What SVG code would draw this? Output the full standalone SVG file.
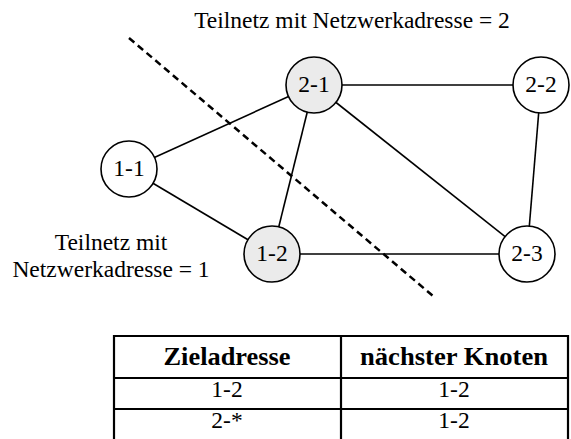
<svg xmlns="http://www.w3.org/2000/svg" width="571" height="439" viewBox="0 0 571 439">
<style>
text{font-family:"Liberation Serif","Times New Roman",serif;font-size:23.5px;fill:#000;text-anchor:middle}
.b{font-weight:bold;font-size:25px}
.node circle{stroke:#000;stroke-width:1.6;fill:#fff}
.node.g circle{fill:#ebebeb}
#edges line{stroke:#000;stroke-width:1.6}
.grid line{stroke:#000;stroke-width:2.2}
</style>
<rect width="571" height="439" fill="#fff"/>
<text x="352" y="28">Teilnetz mit Netzwerkadresse = 2</text>
<text x="111" y="250">Teilnetz mit</text>
<text x="111" y="277">Netzwerkadresse = 1</text>
<g id="edges">
<line x1="129" y1="169" x2="314" y2="85"/>
<line x1="129" y1="169" x2="272" y2="254"/>
<line x1="314" y1="85" x2="272" y2="254"/>
<line x1="314" y1="85" x2="541" y2="85"/>
<line x1="314" y1="85" x2="527" y2="254"/>
<line x1="541" y1="85" x2="527" y2="254"/>
<line x1="272" y1="254" x2="527" y2="254"/>
</g>
<g id="n2-1" class="node g"><circle cx="314" cy="85" r="28"/><text x="314" y="92">2-1</text></g>
<g id="n2-2" class="node"><circle cx="541" cy="85" r="28"/><text x="541" y="92">2-2</text></g>
<g id="n1-1" class="node"><circle cx="129" cy="169" r="28"/><text x="129" y="176">1-1</text></g>
<g id="n1-2" class="node g"><circle cx="272" cy="254" r="28"/><text x="272" y="261">1-2</text></g>
<g id="n2-3" class="node"><circle cx="527" cy="254" r="28"/><text x="527" y="261">2-3</text></g>
<line id="boundary" x1="129" y1="38" x2="433" y2="296" stroke="#000" stroke-width="2.5" stroke-dasharray="7,4.5"/>
<g id="table">
<g class="grid">
<line x1="113" y1="336" x2="569" y2="336"/>
<line x1="113" y1="378" x2="569" y2="378"/>
<line x1="113" y1="409" x2="569" y2="409"/>
<line x1="114" y1="335" x2="114" y2="439"/>
<line x1="341" y1="335" x2="341" y2="439"/>
<line x1="568" y1="335" x2="568" y2="439"/>
</g>
<text class="b" x="227" y="365" textLength="127" lengthAdjust="spacingAndGlyphs">Zieladresse</text>
<text class="b" x="454" y="365" textLength="188" lengthAdjust="spacingAndGlyphs">nächster Knoten</text>
<text x="227" y="397">1-2</text>
<text x="454" y="397">1-2</text>
<text x="227" y="428">2-*</text>
<text x="454" y="428">1-2</text>
</g>
</svg>
